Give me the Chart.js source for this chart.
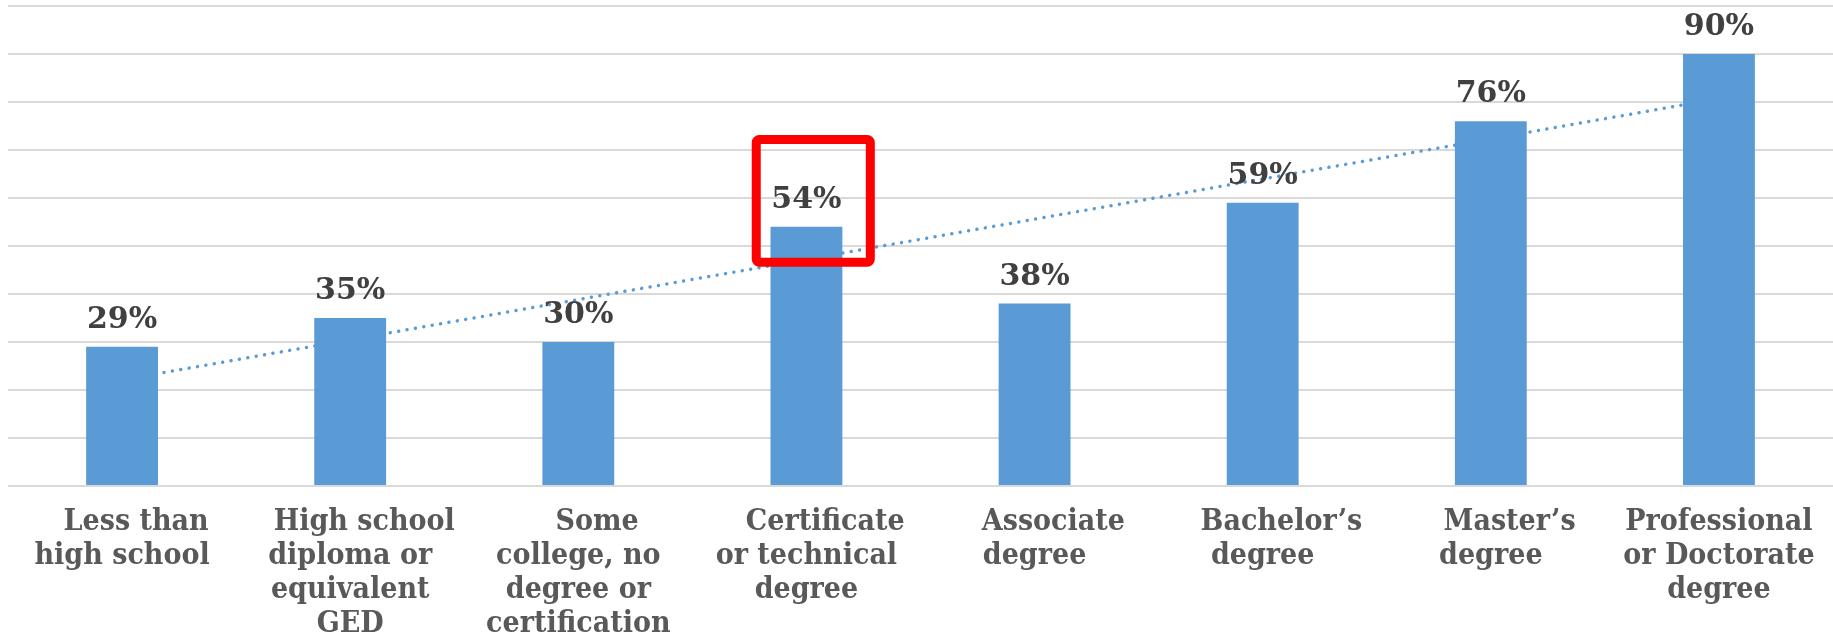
<!DOCTYPE html>
<html>
<head>
<meta charset="utf-8">
<script src="https://cdn.jsdelivr.net/npm/chart.js@4/dist/chart.umd.min.js"></script>
<style>
    body { margin: 0; background: #ffffff; }
    #contenedor { width: 1833px; height: 634px; position: relative; }
</style>
</head>
<body>
<div id="contenedor"><canvas id="grafico"></canvas></div>
<script>
const categorias = [
    ["   Less than", "high school"],
    ["   High school", "diploma or", "equivalent", "GED"],
    ["    Some", "college, no", "degree or", "certification"],
    ["    Certificate", "or technical", "degree"],
    ["    Associate", "degree"],
    ["    Bachelor\u2019s", "degree"],
    ["    Master\u2019s", "degree"],
    ["Professional", "or Doctorate", "degree"]
];

const porcentajes = [29, 35, 30, 54, 38, 59, 76, 90];

// tendencia lineal: solo los extremos
const tendencia = [22.1, null, null, null, null, null, null, 80.7];

const marcasEjeY = [0, 10, 20, 30, 40, 50, 60, 70, 80, 90, 100];

// recuadro rojo sobre "Certificate or technical degree"
const indiceResaltado = 3;
const rangoResaltado = [46.6, 72.2];

const AZUL = "#5b9bd5";

const etiquetasDatos = {
    id: "etiquetasDatos",
    afterDatasetsDraw(chart) {
        const ctx = chart.ctx;
        const meta = chart.getDatasetMeta(0);
        ctx.save();
        ctx.font = "bold 30px 'DejaVu Serif'";
        ctx.fillStyle = "#404040";
        ctx.textAlign = "center";
        ctx.textBaseline = "alphabetic";
        meta.data.forEach((barra, i) => {
            ctx.fillText(`${porcentajes[i]}%`, barra.x, barra.y - 19);
        });
        ctx.restore();
    }
};

const recuadro = {
    id: "recuadro",
    afterDraw(chart) {
        const ctx = chart.ctx;
        const x = chart.scales.x;
        const y = chart.scales.y;
        const paso = x.getPixelForValue(1) - x.getPixelForValue(0);
        const centro = x.getPixelForValue(indiceResaltado) + paso * 0.03;
        const ancho = paso * 0.5;
        const arriba = y.getPixelForValue(rangoResaltado[1]);
        const abajo = y.getPixelForValue(rangoResaltado[0]);
        ctx.save();
        ctx.strokeStyle = "#ff0000";
        ctx.lineWidth = 9;
        ctx.lineJoin = "round";
        ctx.beginPath();
        ctx.roundRect(centro - ancho / 2, arriba, ancho, abajo - arriba, 3);
        ctx.stroke();
        ctx.restore();
    }
};

new Chart(document.getElementById("grafico"), {
    data: {
        labels: categorias,
        datasets: [
            {
                type: "bar",
                data: porcentajes,
                backgroundColor: AZUL,
                categoryPercentage: 1,
                barPercentage: 0.315,
                order: 1
            },
            {
                type: "line",
                data: tendencia,
                borderColor: AZUL,
                borderWidth: 3.5,
                borderDash: [0.01, 8.5],
                borderCapStyle: "round",
                pointRadius: 0,
                spanGaps: true,
                fill: false,
                order: 2
            }
        ]
    },
    options: {
        responsive: true,
        maintainAspectRatio: false,
        animation: false,
        layout: {
            padding: { left: 8, top: 6, right: 0, bottom: 0 }
        },
        plugins: {
            legend: { display: false },
            tooltip: { enabled: false }
        },
        scales: {
            x: {
                grid: { display: false },
                border: { display: false },
                afterFit(eje) {
                    eje.height = 148;
                },
                ticks: {
                    autoSkip: false,
                    maxRotation: 0,
                    minRotation: 0,
                    padding: 11,
                    color: "#595959",
                    font: { family: "'DejaVu Serif Condensed'", weight: "bold", size: 30, lineHeight: "34px" }
                }
            },
            y: {
                min: marcasEjeY[0],
                max: marcasEjeY[marcasEjeY.length - 1],
                afterBuildTicks(eje) {
                    eje.ticks = marcasEjeY.map(v => ({ value: v }));
                },
                grid: { color: "#d9d9d9", lineWidth: 2, drawTicks: false },
                border: { display: false },
                ticks: { display: false }
            }
        }
    },
    plugins: [etiquetasDatos, recuadro]
});
</script>
</body>
</html>
